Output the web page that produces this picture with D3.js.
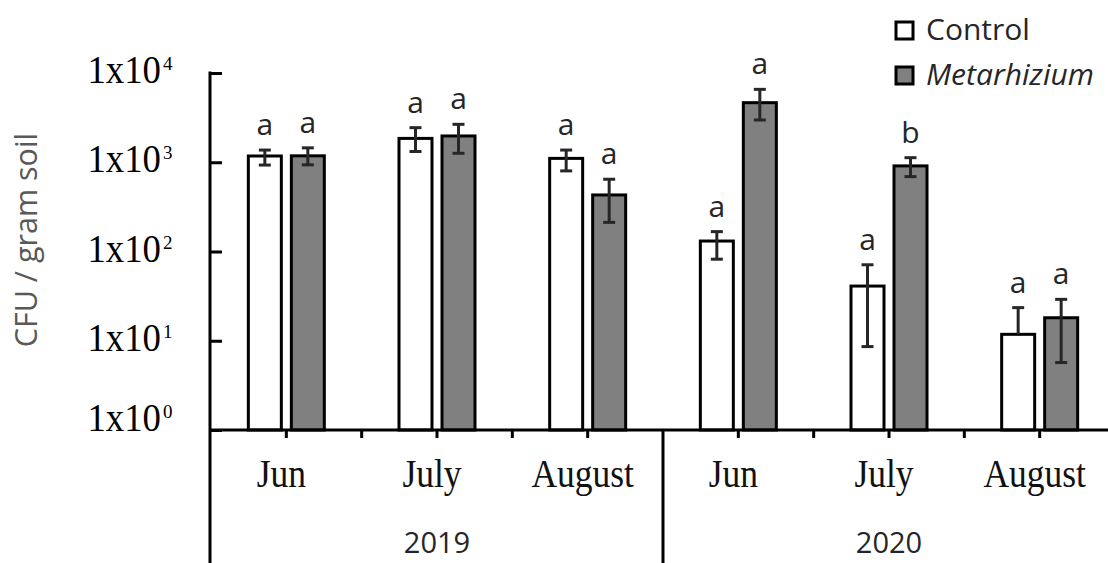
<!DOCTYPE html>
<html>
<head>
<meta charset="utf-8">
<script src="https://cdn.jsdelivr.net/npm/d3@7"></script>
<style>
  html, body { margin: 0; padding: 0; background: #fff; }
  svg { display: block; }
</style>
</head>
<body>
<svg id="chart" width="1108" height="563"></svg>
<script>
// Sampling months and years
const months = ["Jun", "July", "August", "Jun", "July", "August"];
const years = ["2019", "2020"];
const seriesNames = ["Control", "Metarhizium"];

// Mean CFU per gram soil and error-bar limits
const controlMean = [1175, 1850, 1105, 131, 41, 11.8];
const controlLow  = [930, 1320, 800, 82, 8.6, null];
const controlHigh = [1370, 2440, 1370, 167, 71, 23.5];

const metaMean = [1180, 1970, 430, 4650, 910, 18.1];
const metaLow  = [935, 1260, 212, 2975, 690, 5.7];
const metaHigh = [1450, 2660, 645, 6560, 1125, 29.1];

// Significance letters
const controlLetters = ["a", "a", "a", "a", "a", "a"];
const metaLetters    = ["a", "a", "a", "a", "b", "a"];

// Y tick exponents
const tickExponents = [0, 1, 2, 3, 4];

const svg = d3.select("#chart");

const axisX = 210, baseY = 430;
const ids = months.map((m, i) => i);

const x = d3.scaleBand().domain(ids).range([211, 1115]).paddingInner(0).paddingOuter(0);
const y = d3.scaleLog().domain([1, 10000]).range([baseY, 73]);

const barW = 33, barOff = 21.5;
const series = [
  { name: seriesNames[0], mean: controlMean, low: controlLow, high: controlHigh, letters: controlLetters, fill: "#ffffff", dx: -barOff },
  { name: seriesNames[1], mean: metaMean, low: metaLow, high: metaHigh, letters: metaLetters, fill: "#808080", dx: barOff }
];

const cx = i => x(i) + x.bandwidth() / 2;

// Bars
series.forEach(s => {
  svg.append("g").selectAll("rect")
    .data(ids)
    .join("rect")
    .attr("x", i => cx(i) + s.dx - barW / 2)
    .attr("y", i => y(s.mean[i]))
    .attr("width", barW)
    .attr("height", i => baseY - y(s.mean[i]))
    .attr("fill", s.fill)
    .attr("stroke", "#000")
    .attr("stroke-width", 3);
});

// Error bars
const capW = 12;
series.forEach(s => {
  const g = svg.append("g").attr("stroke", "#262626").attr("stroke-width", 3);
  ids.forEach(i => {
    const xc = cx(i) + s.dx;
    const yHi = y(s.high[i]);
    const yLo = s.low[i] == null ? y(s.mean[i]) : y(s.low[i]);
    g.append("line").attr("x1", xc).attr("x2", xc).attr("y1", yHi).attr("y2", yLo);
    g.append("line").attr("x1", xc - capW / 2).attr("x2", xc + capW / 2).attr("y1", yHi).attr("y2", yHi);
    if (s.low[i] != null) {
      g.append("line").attr("x1", xc - capW / 2).attr("x2", xc + capW / 2).attr("y1", yLo).attr("y2", yLo);
    }
  });
});

// Significance letters
series.forEach(s => {
  svg.append("g").selectAll("text")
    .data(ids)
    .join("text")
    .attr("x", i => cx(i) + s.dx)
    .attr("y", i => y(s.high[i]) - 15)
    .attr("text-anchor", "middle")
    .attr("font-family", "'Open Sans', sans-serif")
    .attr("font-size", 30)
    .attr("fill", "#262626")
    .text(i => s.letters[i]);
});

// Y axis with inward ticks
const yAxis = d3.axisRight(y)
  .tickValues(tickExponents.map(e => Math.pow(10, e)))
  .tickSize(12)
  .tickSizeOuter(0)
  .tickFormat("");
const gy = svg.append("g").attr("transform", `translate(${axisX},0)`).call(yAxis);
gy.select(".domain").remove();
gy.selectAll(".tick line").attr("stroke", "#000").attr("stroke-width", 3);

// Axis line running down through the category rows
svg.append("line")
  .attr("x1", axisX).attr("x2", axisX)
  .attr("y1", y(10000) - 1.5).attr("y2", 563)
  .attr("stroke", "#000").attr("stroke-width", 3);

// Y tick labels: 1x10^n
const yLab = svg.append("g");
tickExponents.forEach(e => {
  const ty = y(Math.pow(10, e)) + (e === 0 ? 1 : 10);
  yLab.append("text")
    .attr("transform", `translate(161,${ty}) scale(0.92,1)`)
    .attr("text-anchor", "end")
    .attr("font-family", "'Liberation Serif', 'Times New Roman', serif")
    .attr("font-size", 40)
    .attr("fill", "#000")
    .text("1x10");
  yLab.append("text")
    .attr("x", 163)
    .attr("y", ty - 13)
    .attr("font-family", "'Liberation Serif', 'Times New Roman', serif")
    .attr("font-size", 19)
    .attr("fill", "#000")
    .text(String(e));
});

// Y axis title
svg.append("text")
  .attr("transform", "translate(37,240) rotate(-90)")
  .attr("text-anchor", "middle")
  .attr("font-family", "'Open Sans', sans-serif")
  .attr("font-size", 30.5)
  .attr("fill", "#595959")
  .text("CFU / gram soil");

// X axis baseline and ticks at group centres
const xAxis = d3.axisBottom(x).tickSize(8).tickSizeOuter(0).tickFormat("");
const gx = svg.append("g").attr("transform", `translate(0,${baseY})`).call(xAxis);
gx.select(".domain").remove();
gx.selectAll(".tick line").attr("stroke", "#000").attr("stroke-width", 3);

svg.append("line")
  .attr("x1", axisX).attr("x2", 1108)
  .attr("y1", baseY).attr("y2", baseY)
  .attr("stroke", "#000").attr("stroke-width", 3);

// Ticks between months, and the long divider between years
ids.slice(0, -1).forEach(i => {
  const bx = x(i) + x.bandwidth();
  const isYearEdge = i === 2;
  svg.append("line")
    .attr("x1", bx).attr("x2", bx)
    .attr("y1", baseY).attr("y2", isYearEdge ? 563 : baseY + 8)
    .attr("stroke", "#000").attr("stroke-width", 3);
});

// Month labels
svg.append("g").selectAll("text")
  .data(ids)
  .join("text")
  .attr("transform", i => `translate(${cx(i) - 5},487) scale(0.91,1)`)
  .attr("text-anchor", "middle")
  .attr("font-family", "'Liberation Serif', 'Times New Roman', serif")
  .attr("font-size", 39)
  .attr("fill", "#111")
  .text(i => months[i]);

// Year labels centred under each group of three months
years.forEach((yr, k) => {
  const x0 = x(k * 3), x1 = x(k * 3 + 2) + x.bandwidth();
  svg.append("text")
    .attr("x", (x0 + x1) / 2)
    .attr("y", 553)
    .attr("text-anchor", "middle")
    .attr("font-family", "'Open Sans', sans-serif")
    .attr("font-size", 29)
    .attr("fill", "#262626")
    .text(yr);
});

// Legend
const legend = svg.append("g");
series.forEach((s, k) => {
  const ly = 22 + k * 45;
  legend.append("rect")
    .attr("x", 896).attr("y", ly)
    .attr("width", 17).attr("height", 17)
    .attr("fill", s.fill)
    .attr("stroke", "#000")
    .attr("stroke-width", 3);
  legend.append("text")
    .attr("x", 926).attr("y", ly + 18)
    .attr("font-family", "'Open Sans', sans-serif")
    .attr("font-size", 30)
    .attr("font-style", k === 1 ? "italic" : "normal")
    .attr("fill", "#262626")
    .text(s.name);
});
</script>
</body>
</html>
